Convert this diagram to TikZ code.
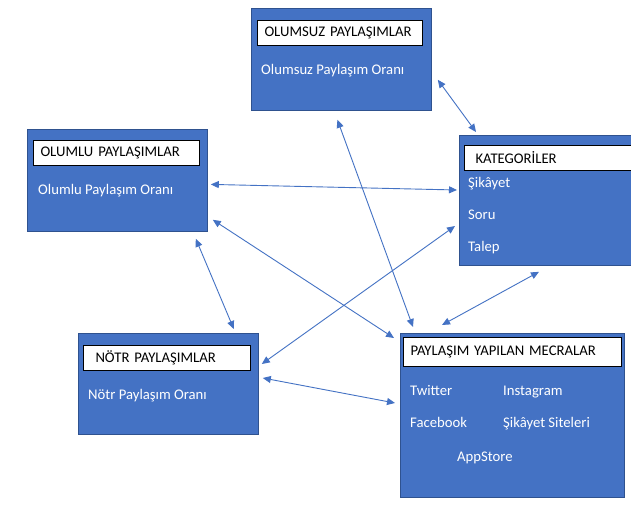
\documentclass[tikz,border=0pt]{standalone}
\usepackage{fontspec}
\setmainfont{Carlito}
\usetikzlibrary{arrows.meta,calc}
\definecolor{panelblue}{HTML}{4472C4}
\definecolor{panelline}{HTML}{2F528F}
\definecolor{linkblue}{HTML}{4472C4}

\begin{document}
\begin{tikzpicture}[x=1pt,y=-1pt,
  panel/.style={draw=panelline, line width=0.8pt, fill=panelblue, inner sep=0pt, anchor=north west},
  titlebox/.style={draw=black, line width=1pt, fill=white, minimum height=25, inner xsep=7pt,
    inner ysep=0pt, align=left, anchor=north west, font=\fontsize{14.7}{16}\selectfont},
  itemtext/.style={text=white, inner sep=0pt, anchor=west, text height=10pt, text depth=3pt,
    font=\fontsize{14.7}{16}\selectfont},
  link/.style={draw=linkblue, line width=0.9pt, {Triangle[length=8pt,width=7pt]}-{Triangle[length=8pt,width=7pt]}}]
  \clip (0,0) rectangle (631,508);
  \fill[white] (0,0) rectangle (631,508);

  % olumsuz
  \node[panel, minimum width=180, minimum height=102] (olumsuz) at (251,8) {};
  \node[titlebox, text width=151] (olumsuzT) at (257,20) {OLUMSUZ PAYLAŞIMLAR};
  \node[itemtext] (olumsuzR) at (261,71) {Olumsuz Paylaşım Oranı};

  % olumlu
  \node[panel, minimum width=180, minimum height=102] (olumlu) at (27,129) {};
  \node[titlebox, text width=152] (olumluT) at (33,140) {OLUMLU PAYLAŞIMLAR};
  \node[itemtext] (olumluR) at (38,191) {Olumlu Paylaşım Oranı};

  % kategoriler
  \node[panel, minimum width=190, minimum height=130] (kategori) at (459,135) {};
  \node[titlebox, text width=180] (kategoriT) at (464,145) {\hspace*{4pt}KATEGORİLER};
  \node[itemtext] (sikayet) at (468,184) {Şikâyet};
  \node[itemtext] (soru) at (468,216) {Soru};
  \node[itemtext] (talep) at (468,248) {Talep};

  % notr
  \node[panel, minimum width=180, minimum height=101] (notr) at (78,333) {};
  \node[titlebox, text width=153] (notrT) at (83,345) {\hspace*{5pt}NÖTR PAYLAŞIMLAR};
  \node[itemtext] (notrR) at (88,396) {Nötr Paylaşım Oranı};

  % mecralar
  \node[panel, minimum width=224, minimum height=164] (mecra) at (400,333) {};
  \node[titlebox, text width=204, minimum height=29] (mecraT) at (403,337) {PAYLAŞIM YAPILAN MECRALAR};
  \node[itemtext] (twitter) at (410,392) {Twitter};
  \node[itemtext] (instagram) at (503,392) {Instagram};
  \node[itemtext] (facebook) at (410,424) {Facebook};
  \node[itemtext] (siteler) at (503,424) {Şikâyet Siteleri};
  \node[itemtext] (appstore) at (457,458) {AppStore};

  % baglantilar
  \draw[link] ($(olumsuz.south east)+(6,-31)$) -- ($(kategori.north west)+(17,-3)$);
  \draw[link] ($(olumsuz.south)+(-4,9)$) -- ($(mecra.north west)+(13,-6)$);
  \draw[link] ($(olumlu.east)+(3,4)$) -- ($(kategori.north west)+(-2,55)$);
  \draw[link] ($(olumlu.south east)+(5,-12)$) -- ($(mecra.north west)+(-6,5)$);
  \draw[link] ($(olumlu.south east)+(-12,7)$) -- ($(notr.north east)+(-25,-4)$);
  \draw[link] ($(kategori.north west)+(-4,91)$) -- ($(notr.north east)+(3,31)$);
  \draw[link] ($(kategori.south west)+(80,6)$) -- ($(mecra.north west)+(42,-8)$);
  \draw[link] ($(notr.north east)+(4,45)$) -- ($(mecra.north west)+(-5,70)$);
\end{tikzpicture}
\end{document}
